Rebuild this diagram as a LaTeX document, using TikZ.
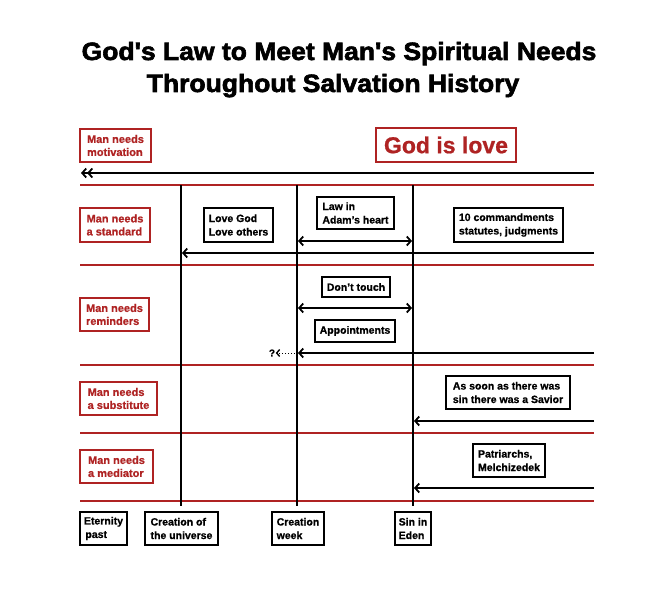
\documentclass[tikz,border=0pt]{standalone}
\usepackage{fontspec}
\setmainfont[BoldFeatures={FakeBold=0.8}]{Liberation Sans}
\newfontfamily\titlefont[FakeBold=2.5,FakeStretch=1.06]{Liberation Sans Bold}
\usetikzlibrary{arrows.meta}
\definecolor{rd}{RGB}{175,35,35}
\begin{document}
\begin{tikzpicture}[x=1pt,y=-1pt,
  >={Straight Barb[length=4pt,width=9pt]},
  redline/.style={draw=rd, line width=2pt},
  blkline/.style={draw=black, line width=2pt},
  arr/.style={draw=black, line width=1.8pt},
  redbox/.style={draw=rd, line width=1.8pt, text=rd, inner sep=0pt, align=left,
    font=\bfseries\fontsize{11}{13}\selectfont},
  blkbox/.style={draw=black, line width=1.8pt, inner sep=0pt, align=left,
    font=\bfseries\fontsize{10.5}{13.5}\selectfont},
  sz/.style n args={2}{minimum width=#1pt, minimum height=#2pt},
  titletext/.style={font=\titlefont\fontsize{25}{30}\selectfont, inner sep=0pt, anchor=base}
]
\useasboundingbox[fill=white] (0,0) rectangle (671,591);

% title
\node[titletext] (t1) at (339,60) {God's Law to Meet Man's Spiritual Needs};
\node[titletext] (t2) at (333,92) {Throughout Salvation History};

% horizontal red lines
\foreach \n/\y in {1/185,2/265,3/365,4/433,5/501}{
  \coordinate (hl\n) at (80,\y);
  \coordinate (hr\n) at (594,\y);
  \draw[redline] (hl\n) -- (hr\n);
}
% vertical black lines
\foreach \n/\x in {1/181,2/297,3/413}{
  \coordinate (vt\n) at (\x,185);
  \coordinate (vb\n) at (\x,506);
  \draw[blkline] (vt\n) -- (vb\n);
}

% left labels
\node[redbox, sz={71}{33}] (mot) at (115.5,145.5) {Man needs\\motivation};
\node[redbox, sz={70}{34}] (std) at (115,225) {Man needs\\a standard};
\node[redbox, sz={69}{33}] (rem) at (114.5,314.5) {Man needs\\reminders};
\node[redbox, sz={77}{33}] (sub) at (118.5,398.5) {Man needs\\a substitute};
\node[redbox, sz={73}{33}] (med) at (116.5,466.5) {Man needs\\a mediator};

% God is love
\node[draw=rd, line width=1.8pt, text=rd, inner sep=0pt, minimum width=140pt, minimum height=34pt,
  font=\bfseries\fontsize{23}{26}\selectfont] (love) at (446,145) {God is love};

% row 2
\node[blkbox, sz={69}{34}] (lg) at (238.5,225) {Love God\\Love others};
\node[blkbox, sz={77}{32}] (adam) at (355.5,213) {Law in\\Adam's heart};
\node[blkbox, sz={109}{34}] (ten) at (508.5,225) {10 commandments\\statutes, judgments};
% row 3
\node[blkbox, sz={68}{20}] (dt) at (356,287) {Don't touch};
\node[blkbox, sz={80}{22}] (app) at (355,331) {Appointments};
\node[font=\bfseries\fontsize{10}{12}\selectfont, inner sep=0.5pt] (q) at (272,353) {?};
% row 4
\node[blkbox, sz={124}{33}] (sav) at (508,392.5) {As soon as there was\\sin there was a Savior};
% row 5
\node[blkbox, sz={72}{33}] (pat) at (509,460.5) {Patriarchs,\\Melchizedek};

% bottom time labels
\node[blkbox, sz={47}{33}] (etp) at (103.5,528.5) {Eternity\\\hspace{1.5pt}past};
\node[blkbox, sz={73}{33}] (cu) at (181.5,528.5) {Creation of\\the universe};
\node[blkbox, sz={52}{33}] (cw) at (298,528.5) {Creation\\week};
\node[blkbox, sz={36}{33}] (sie) at (413,528.5) {Sin in\\Eden};

% arrows
\coordinate (a0r) at (594,173); \coordinate (a0l) at (81,173);
\coordinate (a2r) at (594,253); \coordinate (a2l) at (182,253);
\coordinate (d2l) at (298,241); \coordinate (d2r) at (412,241);
\coordinate (d3l) at (298,308); \coordinate (d3r) at (412,308);
\coordinate (a3r) at (594,353); \coordinate (a3l) at (298,353);
\coordinate (a4r) at (594,421); \coordinate (a4l) at (414,421);
\coordinate (a5r) at (594,488); \coordinate (a5l) at (414,488);

\draw[arr,->>] (a0r) -- (a0l);
\draw[arr,->] (a2r) -- (a2l);
\draw[arr,<->] (d2l) -- (d2r);
\draw[arr,<->] (d3l) -- (d3r);
\draw[arr,->] (a3r) -- (a3l);
\draw[draw=black, line width=1pt, dotted, -{Straight Barb[length=3pt,width=7pt,line width=1.4pt]}] (a3l) -- (q.east);
\draw[arr,->] (a4r) -- (a4l);
\draw[arr,->] (a5r) -- (a5l);
\end{tikzpicture}
\end{document}
